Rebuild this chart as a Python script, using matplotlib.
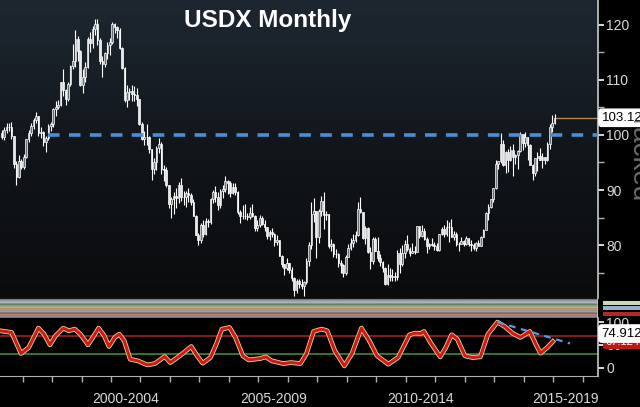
import numpy as np
import matplotlib
matplotlib.use("Agg")
import matplotlib.pyplot as plt
from matplotlib.colors import LinearSegmentedColormap
from matplotlib.transforms import Bbox

plt.rcParams['font.family'] = ['Liberation Sans', 'DejaVu Sans']

# monthly USDX, Apr 1998 .. Jan 2017 (close / high / low)
first_month = 1998 + 3 / 12
close = [
    99.6, 100.9, 101.4, 101.5, 99.9, 94.8, 92.4, 95.2, 94.2,
    96.0, 99.2, 100.3, 101.6, 102.7, 103.4, 100.3, 100.5, 98.7, 99.4, 101.6, 101.9,
    104.8, 105.0, 105.5, 109.6, 108.1, 106.5, 109.2, 112.6, 113.4, 117.5, 115.3, 109.1,
    110.6, 112.4, 117.4, 116.7, 119.2, 120.1, 117.3, 113.5, 112.8, 114.9, 116.4, 116.8,
    120.1, 119.6, 119.1, 115.7, 112.2, 106.3, 107.8, 107.9, 107.4, 107.3, 106.5, 101.9,
    99.3, 99.6, 99.7, 97.4, 93.8, 95.1, 97.7, 98.4, 93.9, 93.7, 91.0, 87.4,
    88.3, 89.0, 88.6, 91.0, 88.8, 88.8, 89.5, 89.1, 87.9, 85.3, 81.9, 80.9,
    83.6, 82.1, 84.4, 84.2, 88.4, 89.6, 88.8, 87.3, 89.8, 90.1, 91.6, 91.2,
    89.4, 90.6, 89.7, 86.1, 85.3, 85.3, 85.3, 85.1, 85.9, 85.3, 83.1, 83.7,
    85.0, 83.8, 83.2, 81.6, 82.4, 82.0, 80.6, 80.9, 78.0, 76.5, 75.9, 76.7,
    75.4, 74.0, 71.8, 73.5, 72.9, 72.5, 73.3, 77.2, 80.0, 85.6, 86.2, 81.4,
    86.2, 88.1, 85.4, 85.6, 79.9, 80.2, 78.4, 78.3, 76.7, 76.4, 74.9, 77.9,
    79.5, 80.3, 81.0, 81.8, 86.6, 86.0, 81.3, 83.1, 78.8, 77.1, 81.1, 79.0,
    77.6, 76.9, 75.9, 72.9, 74.6, 74.3, 74.4, 74.2, 78.5, 76.6, 78.5, 80.2,
    79.3, 78.6, 79.0, 78.8, 83.5, 81.6, 82.6, 81.2, 79.9, 80.2, 80.1, 79.8,
    79.2, 82.0, 83.0, 82.0, 83.2, 83.2, 81.4, 82.1, 80.2, 80.2, 80.7, 80.2,
    81.3, 80.2, 80.1, 79.5, 80.4, 79.8, 81.5, 82.8, 85.9, 86.9, 88.4, 90.3,
    94.8, 95.3, 98.4, 94.6, 96.9, 95.5, 97.3, 96.0, 96.4, 97.0, 100.2, 98.6,
    99.6, 98.2, 94.6, 93.1, 95.9, 96.1, 95.5, 96.0, 95.4, 98.4, 101.5, 102.2,
    103.12,
]
high = [
    100.9, 101.5, 102.2, 102.1, 102.3, 99.9, 95.2, 96.3, 95.7,
    96.6, 99.3, 100.9, 102.1, 103.0, 104.1, 103.4, 101.4, 100.8, 99.8, 101.9, 102.3,
    104.9, 106.2, 106.4, 109.6, 112.0, 108.3, 109.6, 112.7, 116.6, 119.0, 117.9, 115.4,
    112.0, 113.2, 117.8, 118.7, 119.7, 121.0, 121.0, 117.6, 114.3, 115.0, 116.9, 117.6,
    120.5, 120.4, 119.8, 119.4, 115.9, 112.3, 109.0, 108.5, 109.1, 108.8, 108.6, 106.6,
    102.3, 100.8, 101.9, 99.9, 97.5, 95.9, 98.0, 99.5, 98.8, 94.5, 94.1, 91.0,
    88.7, 89.6, 90.4, 91.4, 92.2, 89.9, 89.8, 90.3, 89.5, 88.3, 85.4, 82.2,
    84.0, 84.6, 84.9, 84.8, 88.6, 90.0, 90.7, 89.6, 90.1, 91.0, 92.6, 91.8,
    91.6, 91.2, 91.3, 89.9, 86.3, 87.2, 87.4, 85.8, 86.9, 87.4, 85.5, 84.6,
    85.5, 85.2, 84.6, 83.3, 82.8, 83.1, 82.2, 81.9, 81.0, 78.2, 76.6, 77.7,
    76.8, 76.0, 74.3, 73.8, 73.9, 73.9, 73.5, 77.6, 80.6, 87.9, 88.5, 86.2,
    86.6, 89.0, 89.6, 86.2, 85.5, 81.2, 80.3, 79.3, 78.5, 77.3, 76.5, 78.2,
    80.2, 81.3, 82.1, 82.5, 87.8, 88.8, 86.0, 83.5, 83.3, 79.6, 81.5, 81.4,
    81.4, 78.4, 77.2, 76.0, 76.5, 75.8, 75.7, 75.1, 79.1, 79.5, 80.0, 81.0,
    81.8, 79.6, 80.4, 79.9, 83.5, 83.0, 83.6, 83.1, 81.5, 80.4, 81.3, 80.5,
    80.4, 82.1, 83.2, 83.6, 84.5, 84.2, 84.8, 82.5, 82.3, 80.5, 81.5, 81.0,
    81.6, 81.3, 80.9, 80.4, 80.6, 81.0, 81.6, 82.9, 86.0, 87.4, 88.4, 90.3,
    95.5, 95.3, 100.4, 99.0, 97.1, 97.5, 98.0, 98.3, 96.6, 97.2, 100.5, 100.2,
    100.6, 99.0, 98.4, 94.7, 95.9, 96.9, 97.6, 96.8, 96.0, 98.7, 102.0, 103.6,
    103.8,
]
low = [
    99.2, 99.0, 100.3, 100.7, 99.2, 94.0, 90.9, 92.1, 93.8,
    93.9, 95.9, 98.8, 99.8, 101.1, 102.2, 99.8, 99.5, 98.0, 96.9, 99.1, 100.8,
    101.4, 103.4, 104.7, 105.3, 107.1, 105.4, 106.1, 108.8, 111.9, 112.4, 113.5, 108.8,
    107.6, 109.7, 112.2, 115.0, 115.8, 118.1, 116.3, 112.9, 110.5, 112.4, 113.8, 114.6,
    116.5, 118.5, 117.6, 115.6, 112.0, 105.9, 105.1, 106.3, 106.1, 106.2, 105.3, 101.8,
    99.1, 98.2, 98.1, 96.7, 91.9, 92.9, 93.6, 96.7, 92.9, 91.7, 90.6, 86.7,
    84.9, 85.6, 86.8, 87.6, 88.0, 87.3, 86.9, 87.9, 87.2, 85.3, 81.8, 80.0,
    80.4, 81.5, 81.8, 83.3, 83.9, 87.6, 87.8, 86.3, 86.8, 88.6, 89.6, 89.3,
    88.8, 89.2, 89.1, 85.7, 84.0, 84.8, 84.7, 84.6, 84.8, 85.1, 82.6, 82.6,
    83.3, 83.6, 82.5, 81.2, 81.0, 81.5, 79.9, 80.0, 78.0, 76.0, 74.5, 75.4,
    75.0, 73.4, 70.7, 71.3, 72.2, 72.0, 70.7, 73.0, 76.3, 79.3, 84.2, 77.7,
    80.3, 85.3, 83.0, 84.5, 79.5, 79.0, 77.8, 77.6, 76.1, 74.9, 74.2, 74.5,
    77.8, 79.2, 79.7, 80.6, 81.7, 85.9, 81.2, 80.2, 78.6, 75.6, 76.5, 79.0,
    77.2, 76.2, 75.2, 72.7, 72.8, 73.5, 73.4, 73.4, 73.7, 74.9, 76.2, 77.7,
    78.9, 78.1, 78.6, 78.4, 78.7, 81.3, 81.5, 80.9, 78.6, 79.3, 79.8, 79.1,
    78.9, 79.0, 81.9, 81.5, 81.7, 80.5, 81.4, 80.9, 79.9, 79.0, 80.3, 79.8,
    80.0, 79.8, 78.9, 79.2, 78.9, 79.8, 79.9, 81.4, 82.7, 84.5, 86.8, 87.9,
    90.1, 93.8, 94.9, 94.4, 93.1, 93.2, 95.2, 92.6, 94.8, 93.8, 96.9, 97.2,
    97.8, 95.5, 94.6, 91.9, 92.6, 93.4, 95.5, 94.0, 94.8, 95.2, 97.4, 100.6,
    101.9,
]
prev_close = 100.3  # Mar 1998

# oscillator (lower panel): year, value
osc_t = [1998.24, 1998.63, 1998.95, 1999.21, 1999.54, 1999.73, 1999.93, 2000.12, 2000.38,
         2000.57, 2000.77, 2000.96, 2001.22, 2001.42, 2001.58, 2001.77, 2001.93, 2002.13,
         2002.28, 2002.45, 2002.65, 2002.91, 2003.23, 2003.49, 2003.82, 2004.01, 2004.33,
         2004.72, 2004.92, 2005.11, 2005.37, 2005.57, 2005.76, 2006.02, 2006.22, 2006.47,
         2006.67, 2007.06, 2007.25, 2007.45, 2007.84, 2008.10, 2008.42, 2008.62, 2008.87,
         2009.14, 2009.33, 2009.59, 2009.91, 2010.17, 2010.49, 2010.76, 2011.02, 2011.40,
         2011.73, 2012.12, 2012.31, 2012.51, 2012.61, 2012.83, 2013.16, 2013.35, 2013.55,
         2013.74, 2014.00, 2014.26, 2014.52, 2014.78, 2015.10, 2015.36, 2015.62, 2015.88,
         2016.20, 2016.40, 2016.56, 2016.79, 2016.98]
osc_v = [80.9, 77.3, 31.5, 44.5, 86.7, 73.6, 50.4, 70.0, 86.7,
         80.9, 84.5, 73.6, 50.4, 70.0, 86.7, 70.0, 46.7, 66.4,
         73.6, 59.1, 19.1, 15.5, 6.7, 9.6, 24.9, 11.8, 26.4,
         46.7, 26.4, 10.4, 22.7, 51.8, 84.5, 88.2, 66.4, 26.4,
         17.6, 20.5, 24.2, 15.5, 9.6, 11.8, 9.6, 30.0, 79.5,
         84.5, 80.9, 37.3, 4.5, 31.5, 86.7, 59.1, 26.4, 8.2,
         22.7, 72.2, 75.8, 75.1, 79.5, 55.5, 24.2, 44.5, 72.2,
         62.7, 26.4, 22.7, 24.2, 73.6, 99.8, 89.6, 75.1, 66.4,
         79.5, 51.8, 32.2, 44.5, 57.6]
osc_trend_t = [2015.10, 2017.56]
osc_trend_v = [99.8, 53.3]

band_colors = ['#9a9a9a', '#a8b8c0', '#78a878', '#b0b0a0', '#c89060', '#a0a0a0', '#c07878', '#909090']
period_labels = ['2000-2004', '2005-2009', '2010-2014', '2015-2019']

last_value = 103.12
level = 100
x0, x1 = 1998.237, 2018.51

W, H = 640, 407
fig = plt.figure(figsize=(W / 100, H / 100), dpi=100, facecolor='black')


def box(left, top, right, bottom):
    return [left / W, 1 - bottom / H, (right - left) / W, (bottom - top) / H]


ax = fig.add_axes(box(0, 0, 598, 298))
band = fig.add_axes(box(0, 298, 598, 318))
osc = fig.add_axes(box(0, 318, 598, 376))

# ---- main price panel
ax.set_xlim(x0, x1)
ax.set_ylim(70.4, 124.5)
grad = LinearSegmentedColormap.from_list('bg', ['#0a0b0d', '#11161b', '#1e2731'])
ax.imshow(np.linspace(0, 1, 256).reshape(-1, 1), cmap=grad, origin='lower',
          extent=[x0, x1, 70.4, 124.5], aspect='auto', zorder=0)

t = first_month + np.arange(len(close)) / 12 + 1 / 24
opens = np.array([prev_close] + close[:-1])
c = np.array(close)
hi = np.maximum(np.array(high), np.maximum(opens, c))
lo = np.minimum(np.array(low), np.minimum(opens, c))
ax.vlines(t, lo, hi, color='white', lw=0.8, zorder=3)
up = c >= opens
ax.bar(t[up], (c - opens)[up], bottom=opens[up], width=0.055,
       facecolor='#6a7078', edgecolor='white', lw=0.5, zorder=4)
ax.bar(t[~up], (opens - c)[~up], bottom=c[~up], width=0.055,
       facecolor='#e8e8e8', edgecolor='white', lw=0.5, zorder=4)

ax.plot([1999.86, x1], [level, level], color='#4a8fd6', lw=2.6,
        dashes=(3.2, 2.6), zorder=5)
ax.plot([t[-1], x1], [last_value, last_value], color='#b8844c', lw=1, zorder=2)

ax.text(2007.32, 120.7, 'USDX Monthly', color='white', fontsize=17.5,
        fontweight='bold', ha='center', va='center', zorder=6)

ax.yaxis.tick_right()
ax.set_yticks([80, 90, 100, 110, 120])
ax.set_yticks([75, 85, 95, 105, 115], minor=True)
ax.tick_params(axis='y', which='both', colors='#d8d8d8', labelsize=10, length=4,
               width=1.4, pad=2, direction='out')
ax.tick_params(axis='y', which='minor', length=4, width=1, color='#b0b0b0')
ax.set_xticks([])
for s in ['top', 'left', 'bottom']:
    ax.spines[s].set_visible(False)
ax.spines['right'].set_color('#c8c8c8')
ax.spines['right'].set_linewidth(1.2)

ax.text(x1 + 0.12, last_value, f'{last_value:.2f}', color='black', fontsize=9.5,
        va='center', ha='left', zorder=10, clip_on=False,
        bbox=dict(boxstyle='round,pad=0.2', fc='white', ec='white'))

# faded watermark on the right edge
wm = fig.text(626 / W, 1 - 102 / H, 'Tracked', color='#6a6a6a', fontsize=20,
              rotation=270, ha='left', va='top')
wm.set_clip_box(Bbox.from_extents(600, H - 200, W, H - 121))
wm.set_clip_on(True)

# ---- band of flattened lines
band.set_facecolor('#151515')
band.set_xlim(x0, x1)
band.set_ylim(0, len(band_colors) + 1)
for i, col in enumerate(band_colors):
    band.axhline(len(band_colors) - i, color=col, lw=1.8)
band.set_xticks([])
band.set_yticks([])
for s in band.spines.values():
    s.set_visible(False)
band.axvline(x1, color='#c8c8c8', lw=1.2)
for yy, fc in [(303, '#c8d8b8'), (308, '#98b0c8'), (314, '#b02828')]:
    fig.patches.append(plt.Rectangle((603 / W, 1 - (yy + 2) / H), 37 / W, 4 / H,
                                     transform=fig.transFigure, fc=fc, ec='none'))

# ---- oscillator panel
osc.set_facecolor('black')
osc.set_xlim(x0, x1)
osc.set_ylim(-17.4, 108.7)
osc.axhline(70, color='#a02020', lw=1.2)
osc.axhline(30, color='#3c8c3c', lw=1.2)
osc.plot(osc_t, osc_v, color='#e8d890', lw=3.4, solid_joinstyle='round', zorder=3)
osc.plot(osc_t, osc_v, color='#d01818', lw=2.2, solid_joinstyle='round', zorder=4)
osc.plot(osc_trend_t, osc_trend_v, color='#5a9ae0', lw=1.6, dashes=(3, 2.5), zorder=5)

osc.yaxis.tick_right()
osc.set_yticks([0, 50, 100])
osc.tick_params(axis='y', colors='#d8d8d8', labelsize=10, length=4, width=1.4, pad=2)
osc.set_xticks(range(1999, 2019))
osc.set_xticks([2000, 2005, 2010, 2015], minor=True)
osc.set_xticklabels([])
osc.tick_params(axis='x', which='major', length=4, color='#b0b0b0', width=1)
osc.tick_params(axis='x', which='minor', length=23, color='#b0b0b0', width=1)
for s in ['top', 'left']:
    osc.spines[s].set_visible(False)
osc.spines['bottom'].set_color('#b0b0b0')
osc.spines['right'].set_color('#c8c8c8')
osc.spines['right'].set_linewidth(1.2)

for i, lab in enumerate(period_labels):
    osc.text(2002.5 + 5 * i - (0.1 if i == 3 else 0), -0.4, lab, color='#d8d8d8',
             fontsize=10, ha='center', va='center', transform=osc.get_xaxis_transform())

osc.text(x1 + 0.12, 74.912, '74.912', color='black', fontsize=9.5, va='center',
         ha='left', zorder=10, clip_on=False,
         bbox=dict(boxstyle='round,pad=0.2', fc='white', ec='white'))
osc.text(x1 + 0.25, 57, '67.124', color='white', fontsize=8, va='center',
         ha='left', zorder=9, clip_on=False,
         bbox=dict(boxstyle='round,pad=0.15', fc='#c01818', ec='#c01818'))

fig.savefig('out.png', dpi=100, facecolor='black')
